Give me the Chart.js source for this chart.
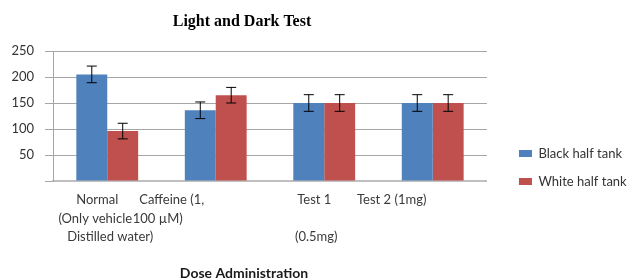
<!DOCTYPE html>
<html>
<head>
<meta charset="utf-8">
<script src="https://cdn.jsdelivr.net/npm/chart.js@4.4.1/dist/chart.umd.min.js"></script>
<style>
  html, body { margin: 0; padding: 0; background: #fff; }
  #wrap { width: 627px; height: 280px; }
</style>
</head>
<body>
<div id="wrap"><canvas id="grafico"></canvas></div>
<script>
// dados
const categorias = ["Normal", "Caffeine", "Test 1", "Test 2"];
const rotulosX = [
  ["Normal", "(Only vehicle", "Distilled water)"],
  ["Caffeine (1,", "100 µM)"],
  ["Test 1", "", "(0.5mg)"],
  ["Test 2 (1mg)"]
];
const metadePreta = [205, 136, 150, 150];
const erroPreta = [16, 16, 16, 16];
const metadeBranca = [96, 165, 150, 150];
const erroBranca = [15, 15, 16, 16];
const ticksY = [0, 50, 100, 150, 200, 250];

const titulo = "Light and Dark Test";
const tituloEixoX = "Dose Administration";

// barras de erro desenhadas por cima das barras
const barrasErro = {
  id: "barrasErro",
  afterDatasetsDraw(chart) {
    const ctx = chart.ctx;
    const y = chart.scales.y;
    chart.data.datasets.forEach((ds, i) => {
      const meta = chart.getDatasetMeta(i);
      meta.data.forEach((bar, j) => {
        const v = ds.data[j];
        const e = ds.erros[j];
        const yTop = y.getPixelForValue(v + e);
        const yBot = y.getPixelForValue(v - e);
        ctx.save();
        ctx.strokeStyle = "#000";
        ctx.lineWidth = 1;
        ctx.beginPath();
        ctx.moveTo(bar.x, yTop);
        ctx.lineTo(bar.x, yBot);
        ctx.moveTo(bar.x - 5, yTop);
        ctx.lineTo(bar.x + 5, yTop);
        ctx.moveTo(bar.x - 5, yBot);
        ctx.lineTo(bar.x + 5, yBot);
        ctx.stroke();
        ctx.restore();
      });
    });
  }
};

// textos no estilo do Excel (rótulos deslocados, título)
const deslocX = [[-10, -12, 3], [-44, -58], [-10, 0, -8], [-41]];
const textos = {
  id: "textos",
  afterLayout(chart) {
    // empurra a legenda para onde o Excel a colocou
    const lg = chart.legend;
    lg.left += 17; lg.right += 17;
    lg.top += 81; lg.bottom += 81;
  },
  afterDraw(chart) {
    const ctx = chart.ctx;
    const xs = chart.scales.x;
    const base = chart.chartArea.bottom;
    ctx.save();
    ctx.textAlign = "center";
    ctx.textBaseline = "middle";
    ctx.fillStyle = "#3a3a3a";
    ctx.font = "13px Lato";
    rotulosX.forEach((linhas, i) => {
      const cx = xs.getPixelForValue(i);
      linhas.forEach((t, k) => {
        ctx.fillText(t, cx + deslocX[i][k], base + 19 + k * 18.5);
      });
    });
    ctx.font = "bold 14px Lato";
    ctx.fillStyle = "#1a1a1a";
    ctx.fillText(tituloEixoX, 244, base + 92);
    ctx.font = "bold 16px 'Liberation Serif'";
    ctx.fillStyle = "#000";
    ctx.fillText(titulo, 242, 22);
    ctx.restore();
  }
};

const ctxGrafico = document.getElementById("grafico").getContext("2d");
new Chart(ctxGrafico, {
  type: "bar",
  data: {
    labels: categorias,
    datasets: [
      {
        label: "Black half tank",
        data: metadePreta,
        erros: erroPreta,
        backgroundColor: "#4f81bd",
        borderWidth: 0,
        categoryPercentage: 0.57,
        barPercentage: 1.0
      },
      {
        label: "White half tank",
        data: metadeBranca,
        erros: erroBranca,
        backgroundColor: "#c0504d",
        borderWidth: 0,
        categoryPercentage: 0.57,
        barPercentage: 1.0
      }
    ]
  },
  options: {
    responsive: true,
    maintainAspectRatio: false,
    animation: false,
    layout: { padding: { top: 51, right: 7.3, left: 0, bottom: 0 } },
    scales: {
      x: {
        grid: { display: false },
        border: { display: true, color: "#bfbfbf", width: 2 },
        ticks: { display: false },
        afterFit(scale) { scale.height = 99; }
      },
      y: {
        min: 0,
        max: 250,
        afterBuildTicks(scale) {
          scale.ticks = ticksY.map((v) => ({ value: v }));
        },
        afterFit(scale) { scale.width = 53; },
        grid: { color: "#a6a6a6", lineWidth: 1, tickLength: 8, drawTicks: true },
        border: { display: true, color: "#a6a6a6", width: 1 },
        ticks: {
          padding: 11,
          color: "#333",
          font: { family: "Lato", size: 13 },
          callback: (v) => (v === 0 ? "" : v)
        }
      }
    },
    plugins: {
      title: { display: false },
      tooltip: { enabled: false },
      legend: {
        display: true,
        position: "right",
        align: "start",
        labels: {
          boxWidth: 13,
          boxHeight: 7,
          padding: 15,
          color: "#333",
          font: { family: "Lato", size: 13 }
        }
      }
    }
  },
  plugins: [barrasErro, textos]
});
</script>
</body>
</html>
